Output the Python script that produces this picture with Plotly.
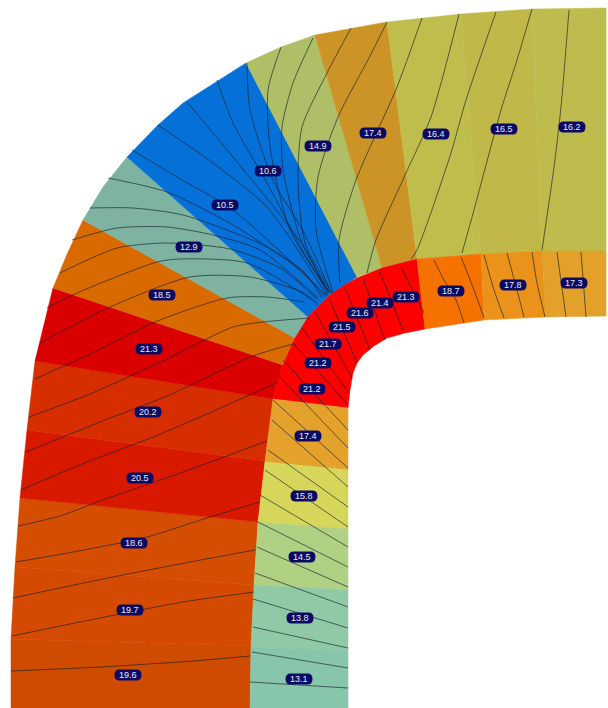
import plotly.graph_objects as go

# Cell outlines (x, y in image units)
cell_names = ["19.6","19.7","18.6","20.5","20.2","21.3","18.5","12.9","10.5","14.9","17.4a","16.4","16.5","16.2",
              "red","18.7","17.8","17.3","17.4b","15.8","14.5","13.8","13.1"]
cell_colors = ["#CF4B00","#D44A00","#D44D00","#D91800","#D62E00","#DA0000","#D96A00","#7DB3A0","#0570D8","#AEBF67",
               "#CC9426","#BFBD4C","#C0B848","#BEBC4C","#FD0000","#F57200","#EB921A","#E3A129","#E4A22C","#D6D75A",
               "#B0D084","#90C9A5","#87C6AB"]
cell_x = [
 [11,11,251,250],[11,15,254,251],[15,20,258,254],[20,27,265,258],[27,35,273,265],
 [35,53,283,273],[53,68,83,295,283],[83,103,127,308,295],[127,158,183,246,357,330,308],
 [246,281,315,382,357],[315,387,417,382],[387,461,481,417],[461,532,542,481],[532,606,606,542],
 [273,278,283,295,308,330,343,357,382,417,425,405,387,374,363,357,353,350,348],
 [417,481,484,425],[481,542,546,484],[542,606,606,546],
 [273,348,348,265],[265,348,348,258],[258,348,348,254],[254,348,348,251],[251,348,348,250],
]
cell_y = [
 [708,639,646,708],[639,567,585,646],[567,498,522,585],[498,430,461,522],[430,361,399,461],
 [361,288,365,399],[288,252,220,338,365],[220,187,157,317,338],[157,125,103,63,277,295,317],
 [63,47,35,268,277],[35,22,259,268],[22,14,254,259],[14,9,251,254],[9,8,251,251],
 [399,381,365,338,317,295,286,278,268,259,329,333,338,346,355,363,373,390,408],
 [259,254,320,329],[254,251,317,320],[251,251,316,317],
 [399,408,470,462],[462,470,529,522],[522,529,590,585],[585,590,651,647],[647,651,708,708],
]

# Contour lines
line_x = [
 [11,100,193,250],[12,70,183,254],[13,93,190,255],[16,73,147,213,260],[18,60,100,183,267],
 [21,77,153,207,278],[26,100,167,253,293],[29,90,167,233,263,310],[35,90,155,227,267,304],
 [40,110,190,250,304,318],[47,77,157,180,247,317],[60,117,167,230,280,318],[72,117,167,213,260,318],
 [90,133,183,263,304,322],[108,167,233,300,325],
 [132,177,233,327],[158,213,267,327],[187,233,304,328],[217,233,267,304,328],[247,250,273,304,330],
 [281,268,270,290,330],[313,293,282,283,302,330],
 [351,327,302,298,305,332],[387,369,338,318,316,333],[422,397,356,339,340],[459,431,406,376,367],
 [496,466,451,417,411],[532,517,501,474,462],[569,561,554,542],
 [434,444,456,464],[461,474,484],[484,494,504],[507,517,524],[532,537,545],[557,566],[581,586],
 [401,424],[380,403],[363,385],[345,370],[330,357],[315,352],[302,349],[293,348],[283,348],[278,348],
 [273,348],[272,348],[268,348],[265,348],[260,348],[258,348],[257,348],[255,348],[253,348],[253,348],[252,348],[250,348],
]
line_y = [
 [671,667,661,656],[636,624,602,592],[598,581,562,550],[562,552,537,516,502],[526,516,501,472,441],
 [490,466,437,414,382],[452,422,396,356,344],[417,394,359,327,322,318],[379,354,322,298,297,302],
 [343,307,277,277,293,305],[308,293,262,259,263,303],[273,248,243,249,268,300],[240,228,227,235,250,298],
 [208,208,215,245,272,298],[178,192,225,270,297],
 [150,177,210,296],[125,163,207,296],[102,157,247,295],[80,123,183,253,293],[63,110,180,233,290],
 [47,90,147,230,293],[38,83,127,170,243,293],
 [28,73,127,180,243,293],[22,58,117,177,230,293],[18,87,180,240,283],[14,117,173,240,273],
 [12,100,153,250,259],[9,60,110,210,253],[10,107,167,250],
 [260,280,300,323],[257,290,318],[255,290,318],[253,290,317],[252,283,317],[252,317],[252,317],
 [267,313],[272,330],[278,340],[288,350],[300,363],[312,378],[328,393],[343,405],[360,430],[375,448],
 [400,468],[420,487],[450,507],[470,527],[495,547],[522,567],[547,587],[573,607],[599,628],[627,648],[652,668],[682,688],
]

# Value labels
label_text = ["19.6","19.7","18.6","20.5","20.2","21.3","18.5","12.9","10.5","10.6","14.9","17.4","16.4","16.5","16.2",
              "18.7","17.8","17.3","21.3","21.4","21.6","21.5","21.7","21.2","21.2","17.4","15.8","14.5","13.8","13.1"]
label_x = [128,130,134,140,148,149,162,189,225,268,318,373,436,504,572,
           451,513,574,406,380,360,342,328,318,312,308,304,302,300,299]
label_y = [675,610,543,478,412,349,295,247,205,171,146,133,134,129,127,
           291,285,283,297,303,313,327,344,363,389,436,496,557,618,679]

fig = go.Figure()
for name, color, xs, ys in zip(cell_names, cell_colors, cell_x, cell_y):
    fig.add_trace(go.Scatter(x=xs + xs[:1], y=ys + ys[:1], mode="lines", fill="toself", fillcolor=color,
                             line=dict(color=color, width=0.5), name=name, hoverinfo="skip"))
for xs, ys in zip(line_x, line_y):
    fig.add_trace(go.Scatter(x=xs, y=ys, mode="lines", hoverinfo="skip",
                             line=dict(color="rgba(20,30,40,0.8)", width=0.8, shape="spline", smoothing=0.7)))

shapes, annotations = [], []
W, H, R = 13.5, 5.5, 5
for t, x, y in zip(label_text, label_x, label_y):
    path = (f"M {x-W+R} {y-H} L {x+W-R} {y-H} Q {x+W} {y-H} {x+W} {y} Q {x+W} {y+H} {x+W-R} {y+H} "
            f"L {x-W+R} {y+H} Q {x-W} {y+H} {x-W} {y} Q {x-W} {y-H} {x-W+R} {y-H} Z")
    shapes.append(dict(type="path", path=path, fillcolor="#0A0A64", line=dict(width=0), layer="above"))
    annotations.append(dict(x=x, y=y, text=t, showarrow=False, xref="x", yref="y",
                            font=dict(family="Liberation Sans", size=9, color="#E8E8F4")))

fig.update_layout(width=608, height=708, margin=dict(l=0, r=0, t=0, b=0), showlegend=False,
                  paper_bgcolor="white", plot_bgcolor="white", shapes=shapes, annotations=annotations,
                  xaxis=dict(range=[0, 608], visible=False, fixedrange=True),
                  yaxis=dict(range=[708, 0], visible=False, fixedrange=True))
fig.write_html("out.html", config={"displayModeBar": False},
               post_script="document.documentElement.style.margin='0';document.body.style.margin='0';document.body.style.overflow='hidden';")
